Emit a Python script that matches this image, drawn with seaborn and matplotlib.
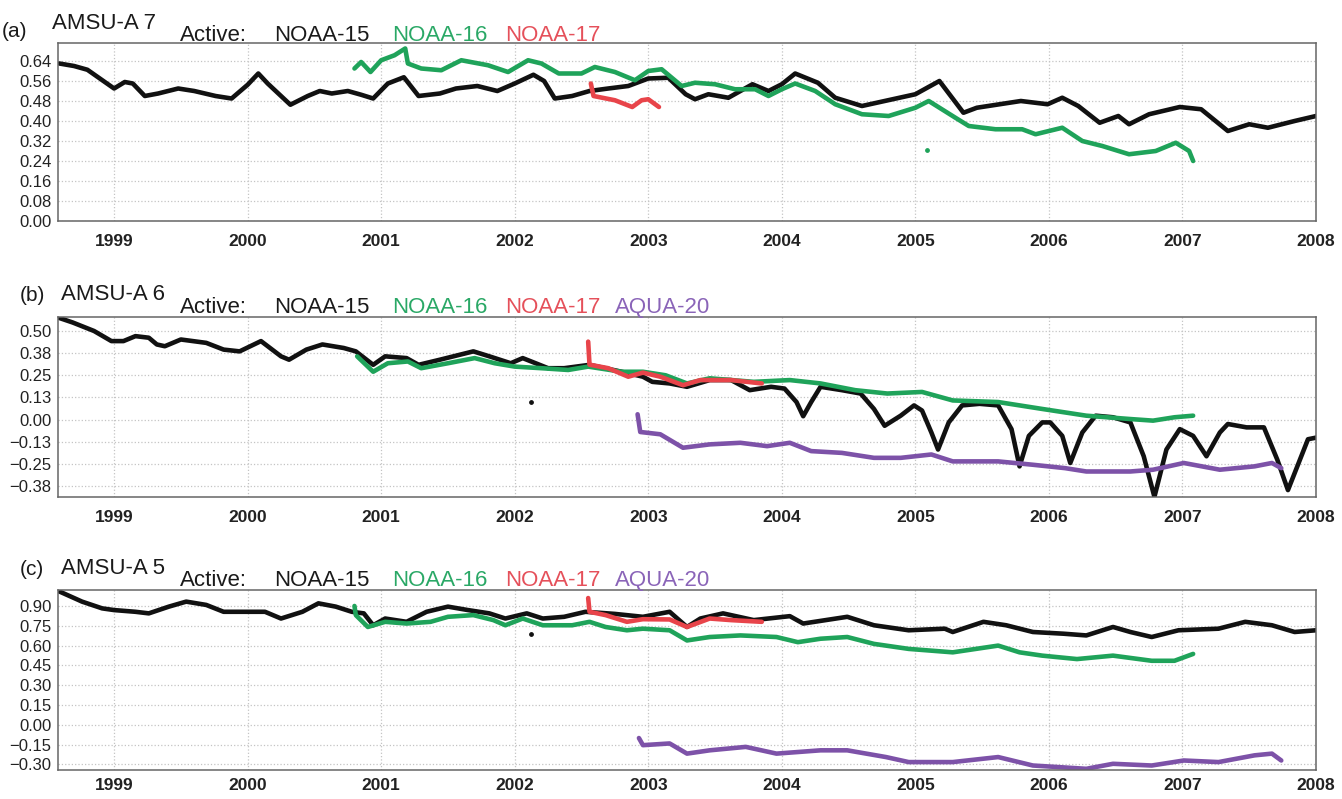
import numpy as np
import pandas as pd
import seaborn as sns
import matplotlib.pyplot as plt

# ---- data (decimal year, channel value) ----

# (a) AMSU-A 7
a_n15_t = [1998.59, 1998.70, 1998.80, 1998.92, 1999.00, 1999.08, 1999.14, 1999.23, 1999.33, 1999.48,
           1999.60, 1999.76, 1999.88, 2000.00, 2000.08, 2000.15, 2000.25, 2000.32, 2000.45, 2000.54,
           2000.63, 2000.75, 2000.85, 2000.94, 2001.05, 2001.17, 2001.28, 2001.44, 2001.56, 2001.72,
           2001.87, 2002.00, 2002.14, 2002.22, 2002.30, 2002.43, 2002.56, 2002.70, 2002.85, 2003.00,
           2003.15, 2003.28, 2003.35, 2003.45, 2003.60, 2003.78, 2003.90, 2004.00, 2004.10, 2004.27,
           2004.40, 2004.60, 2004.77, 2005.00, 2005.18, 2005.36, 2005.46, 2005.79, 2005.99, 2006.10,
           2006.22, 2006.38, 2006.52, 2006.60, 2006.75, 2006.98, 2007.14, 2007.34, 2007.50, 2007.64,
           2007.84, 2008.00]
a_n15_v = [0.63, 0.62, 0.605, 0.56, 0.53, 0.556, 0.55, 0.50, 0.51, 0.53,
           0.52, 0.50, 0.49, 0.545, 0.59, 0.55, 0.50, 0.465, 0.50, 0.52,
           0.51, 0.52, 0.505, 0.49, 0.55, 0.575, 0.50, 0.51, 0.53, 0.54,
           0.52, 0.55, 0.585, 0.56, 0.49, 0.50, 0.52, 0.53, 0.54, 0.57,
           0.573, 0.507, 0.487, 0.507, 0.493, 0.547, 0.52, 0.547, 0.59, 0.553,
           0.493, 0.46, 0.48, 0.507, 0.56, 0.433, 0.453, 0.48, 0.467, 0.493,
           0.46, 0.393, 0.42, 0.387, 0.427, 0.456, 0.447, 0.36, 0.387, 0.373,
           0.40, 0.42]
a_n16_t = [2000.80, 2000.85, 2000.92, 2001.00, 2001.10, 2001.18, 2001.20, 2001.30, 2001.45, 2001.60,
           2001.80, 2001.95, 2002.10, 2002.20, 2002.33, 2002.50, 2002.60, 2002.75, 2002.90, 2003.00,
           2003.10, 2003.25, 2003.35, 2003.50, 2003.65, 2003.80, 2003.90, 2004.00, 2004.10, 2004.25,
           2004.40, 2004.60, 2004.80, 2005.00, 2005.10, 2005.30, 2005.40, 2005.60, 2005.80, 2005.90,
           2006.10, 2006.25, 2006.40, 2006.60, 2006.80, 2006.95, 2007.05, 2007.08]
a_n16_v = [0.61, 0.636, 0.596, 0.643, 0.663, 0.69, 0.63, 0.61, 0.603, 0.643,
           0.623, 0.596, 0.643, 0.63, 0.59, 0.59, 0.616, 0.596, 0.563, 0.60,
           0.607, 0.54, 0.553, 0.547, 0.527, 0.527, 0.50, 0.527, 0.55, 0.52,
           0.467, 0.427, 0.42, 0.453, 0.48, 0.413, 0.38, 0.367, 0.367, 0.347,
           0.373, 0.32, 0.30, 0.267, 0.28, 0.313, 0.28, 0.24]
a_n17_t = [2002.57, 2002.59, 2002.75, 2002.88, 2002.95, 2003.00, 2003.08]
a_n17_v = [0.55, 0.50, 0.483, 0.456, 0.483, 0.487, 0.456]

# (b) AMSU-A 6
b_n15_t = [1998.58, 1998.69, 1998.85, 1998.98, 1999.07, 1999.16, 1999.26, 1999.32, 1999.38, 1999.50,
           1999.69, 1999.82, 1999.94, 2000.10, 2000.25, 2000.31, 2000.44, 2000.56, 2000.72, 2000.81,
           2000.94, 2001.03, 2001.19, 2001.28, 2001.44, 2001.69, 2001.81, 2001.97, 2002.06, 2002.25,
           2002.37, 2002.56, 2002.80, 2002.96, 2003.03, 2003.16, 2003.29, 2003.46, 2003.62, 2003.76,
           2003.92, 2004.02, 2004.11, 2004.16, 2004.22, 2004.29, 2004.45, 2004.59, 2004.69, 2004.77,
           2004.89, 2004.99, 2005.05, 2005.12, 2005.17, 2005.25, 2005.35, 2005.48, 2005.62, 2005.72,
           2005.78, 2005.85, 2005.95, 2006.01, 2006.10, 2006.16, 2006.25, 2006.35, 2006.48, 2006.61,
           2006.71, 2006.79, 2006.88, 2006.98, 2007.08, 2007.18, 2007.28, 2007.34, 2007.48, 2007.61,
           2007.71, 2007.79, 2007.87, 2007.94, 2008.00]
b_n15_v = [0.576, 0.548, 0.50, 0.443, 0.443, 0.471, 0.462, 0.424, 0.414, 0.452,
           0.433, 0.395, 0.385, 0.443, 0.357, 0.338, 0.395, 0.424, 0.404, 0.385,
           0.309, 0.357, 0.347, 0.309, 0.338, 0.385, 0.357, 0.318, 0.347, 0.29,
           0.29, 0.309, 0.27, 0.242, 0.213, 0.204, 0.185, 0.223, 0.223, 0.166,
           0.185, 0.175, 0.099, 0.019, 0.099, 0.185, 0.166, 0.147, 0.06, -0.035,
           0.022, 0.08, 0.051, -0.073, -0.169, -0.016, 0.08, 0.089, 0.08, -0.054,
           -0.264, -0.092, -0.016, -0.016, -0.092, -0.245, -0.073, 0.022, 0.013, -0.016,
           -0.207, -0.436, -0.169, -0.054, -0.092, -0.207, -0.073, -0.025, -0.044, -0.044,
           -0.226, -0.398, -0.245, -0.111, -0.102]
b_n16_t = [2000.82, 2000.94, 2001.05, 2001.20, 2001.30, 2001.50, 2001.70, 2001.85, 2002.00, 2002.20,
           2002.40, 2002.55, 2002.80, 2002.96, 2003.13, 2003.29, 2003.46, 2003.79, 2004.06, 2004.29,
           2004.55, 2004.79, 2005.05, 2005.28, 2005.62, 2005.95, 2006.28, 2006.61, 2006.78, 2006.94,
           2007.08]
b_n16_v = [0.357, 0.27, 0.318, 0.328, 0.29, 0.318, 0.347, 0.318, 0.299, 0.29,
           0.28, 0.299, 0.27, 0.27, 0.25, 0.204, 0.233, 0.213, 0.223, 0.204,
           0.166, 0.147, 0.156, 0.108, 0.099, 0.06, 0.022, 0.003, -0.006, 0.013,
           0.022]
b_n17_t = [2002.55, 2002.56, 2002.70, 2002.85, 2002.96, 2003.09, 2003.26, 2003.39, 2003.62, 2003.85]
b_n17_v = [0.44, 0.31, 0.29, 0.242, 0.265, 0.242, 0.194, 0.223, 0.223, 0.204]
b_aq_t = [2002.92, 2002.94, 2003.09, 2003.26, 2003.46, 2003.69, 2003.89, 2004.06, 2004.22, 2004.45,
          2004.69, 2004.89, 2005.12, 2005.28, 2005.62, 2005.88, 2006.12, 2006.28, 2006.61, 2006.78,
          2007.01, 2007.28, 2007.54, 2007.67, 2007.74]
b_aq_v = [0.03, -0.07, -0.083, -0.159, -0.14, -0.131, -0.15, -0.131, -0.178, -0.188,
          -0.216, -0.216, -0.197, -0.236, -0.236, -0.255, -0.274, -0.293, -0.293, -0.283,
          -0.245, -0.283, -0.264, -0.245, -0.274]

# (c) AMSU-A 5
c_n15_t = [1998.59, 1998.76, 1998.91, 1999.00, 1999.16, 1999.26, 1999.41, 1999.54, 1999.69, 1999.82,
           2000.01, 2000.13, 2000.25, 2000.41, 2000.53, 2000.66, 2000.78, 2000.87, 2000.94, 2001.03,
           2001.19, 2001.34, 2001.50, 2001.65, 2001.81, 2001.93, 2002.09, 2002.21, 2002.37, 2002.53,
           2002.75, 2002.96, 2003.16, 2003.29, 2003.39, 2003.56, 2003.79, 2004.06, 2004.16, 2004.49,
           2004.69, 2004.95, 2005.22, 2005.28, 2005.51, 2005.68, 2005.88, 2006.11, 2006.28, 2006.48,
           2006.61, 2006.77, 2006.97, 2007.27, 2007.47, 2007.67, 2007.84, 2008.00]
c_n15_v = [1.01, 0.933, 0.882, 0.869, 0.856, 0.844, 0.895, 0.933, 0.908, 0.856,
           0.856, 0.856, 0.805, 0.856, 0.92, 0.895, 0.856, 0.844, 0.754, 0.805,
           0.78, 0.856, 0.895, 0.869, 0.844, 0.805, 0.844, 0.805, 0.818, 0.856,
           0.84, 0.818, 0.856, 0.741, 0.805, 0.844, 0.793, 0.823, 0.767, 0.818,
           0.754, 0.716, 0.728, 0.703, 0.78, 0.754, 0.703, 0.69, 0.677, 0.741,
           0.703, 0.665, 0.716, 0.728, 0.78, 0.754, 0.703, 0.716]
c_n16_t = [2000.80, 2000.81, 2000.90, 2001.03, 2001.19, 2001.37, 2001.50, 2001.69, 2001.84, 2001.93,
           2002.06, 2002.21, 2002.43, 2002.56, 2002.68, 2002.84, 2002.96, 2003.16, 2003.29, 2003.46,
           2003.69, 2003.96, 2004.12, 2004.29, 2004.49, 2004.69, 2004.95, 2005.28, 2005.62, 2005.78,
           2005.95, 2006.21, 2006.48, 2006.77, 2006.94, 2007.08]
c_n16_v = [0.90, 0.831, 0.741, 0.78, 0.767, 0.78, 0.818, 0.831, 0.793, 0.754,
           0.805, 0.754, 0.754, 0.78, 0.741, 0.716, 0.728, 0.716, 0.639, 0.665,
           0.677, 0.665, 0.626, 0.652, 0.665, 0.613, 0.575, 0.549, 0.60, 0.549,
           0.524, 0.498, 0.524, 0.485, 0.485, 0.537]
c_n17_t = [2002.55, 2002.56, 2002.68, 2002.84, 2002.96, 2003.16, 2003.29, 2003.46, 2003.62, 2003.85]
c_n17_v = [0.96, 0.856, 0.831, 0.78, 0.80, 0.798, 0.741, 0.805, 0.793, 0.78]
c_aq_t = [2002.93, 2002.96, 2003.16, 2003.29, 2003.46, 2003.73, 2003.96, 2004.29, 2004.49, 2004.78,
          2004.95, 2005.28, 2005.62, 2005.88, 2006.28, 2006.48, 2006.77, 2007.01, 2007.27, 2007.54,
          2007.67, 2007.74]
c_aq_v = [-0.10, -0.154, -0.141, -0.218, -0.193, -0.167, -0.218, -0.193, -0.193, -0.244,
          -0.282, -0.282, -0.244, -0.308, -0.333, -0.295, -0.308, -0.27, -0.282, -0.231,
          -0.218, -0.27]

# a few stray daily points
a_dot_t, a_dot_v = [2005.09], [0.284]
b_dot_t, b_dot_v = [2002.12], [0.099]
c_dot_t, c_dot_v = [2002.12], [0.69]

satellites = ['NOAA-15', 'NOAA-16', 'NOAA-17', 'AQUA-20']
line_colors = {'NOAA-15': '#111111', 'NOAA-16': '#1fa35a', 'NOAA-17': '#e8444a', 'AQUA-20': '#7d52a8'}
text_colors = {'NOAA-15': '#1a1a1a', 'NOAA-16': '#2aa866', 'NOAA-17': '#e5505a', 'AQUA-20': '#8a64b8'}
years = list(range(1999, 2009))

panels = [
    dict(tag='(a)', name='AMSU-A 7',
         series={'NOAA-15': (a_n15_t, a_n15_v), 'NOAA-16': (a_n16_t, a_n16_v), 'NOAA-17': (a_n17_t, a_n17_v)},
         dots=(a_dot_t, a_dot_v, 'NOAA-16'),
         yticks=[0.00, 0.08, 0.16, 0.24, 0.32, 0.40, 0.48, 0.56, 0.64],
         ylabels=['0.00', '0.08', '0.16', '0.24', '0.32', '0.40', '0.48', '0.56', '0.64'],
         ylim=(0.0, 0.712), top=43, bottom=221, xpad=6,
         tag_xy=(2, 37), name_xy=(52, 29), act_y=41),
    dict(tag='(b)', name='AMSU-A 6',
         series={'NOAA-15': (b_n15_t, b_n15_v), 'NOAA-16': (b_n16_t, b_n16_v),
                 'NOAA-17': (b_n17_t, b_n17_v), 'AQUA-20': (b_aq_t, b_aq_v)},
         dots=(b_dot_t, b_dot_v, 'NOAA-15'),
         yticks=[-0.375, -0.25, -0.125, 0.0, 0.125, 0.25, 0.375, 0.5],
         ylabels=['\u22120.38', '\u22120.25', '\u22120.13', '0.00', '0.13', '0.25', '0.38', '0.50'],
         ylim=(-0.437, 0.579), top=317, bottom=497, xpad=6,
         tag_xy=(20, 301), name_xy=(61, 300), act_y=313),
    dict(tag='(c)', name='AMSU-A 5',
         series={'NOAA-15': (c_n15_t, c_n15_v), 'NOAA-16': (c_n16_t, c_n16_v),
                 'NOAA-17': (c_n17_t, c_n17_v), 'AQUA-20': (c_aq_t, c_aq_v)},
         dots=(c_dot_t, c_dot_v, 'NOAA-15'),
         yticks=[-0.30, -0.15, 0.0, 0.15, 0.30, 0.45, 0.60, 0.75, 0.90],
         ylabels=['\u22120.30', '\u22120.15', '0.00', '0.15', '0.30', '0.45', '0.60', '0.75', '0.90'],
         ylim=(-0.342, 1.021), top=590, bottom=770, xpad=2.5,
         tag_xy=(20, 575), name_xy=(61, 574), act_y=586),
]

W, H = 1342, 799
sns.set_style('white')
plt.rcParams['font.family'] = ['Liberation Sans', 'DejaVu Sans']

fig = plt.figure(figsize=(W / 100, H / 100), dpi=100)
left, right = 58, 1316
word_x = {'Active:': 180, 'NOAA-15': 274, 'NOAA-16': 392, 'NOAA-17': 505, 'AQUA-20': 615}


def fx(x):
    return x / W


def fy(y):
    return 1 - y / H


for p in panels:
    ax = fig.add_axes([fx(left), fy(p['bottom']), (right - left) / W, (p['bottom'] - p['top']) / H])

    rows = []
    for sat, (t, v) in p['series'].items():
        rows.append(pd.DataFrame({'year': t, 'value': v, 'satellite': sat}))
    df = pd.concat(rows, ignore_index=True)
    order = [s for s in satellites if s in p['series']]
    sns.lineplot(data=df, x='year', y='value', hue='satellite', hue_order=order,
                 palette=line_colors, estimator=None, sort=False, legend=False,
                 linewidth=3.3, ax=ax)
    dt, dv, dsat = p['dots']
    ax.scatter(dt, dv, s=6, color=line_colors[dsat], zorder=3)

    ax.set_xlim(1998.58, 2008.0)
    ax.set_ylim(*p['ylim'])
    ax.set_xticks(years)
    ax.set_xticklabels([str(y) for y in years], fontsize=12.5, fontweight='bold', color='#222222')
    ax.set_yticks(p['yticks'])
    ax.set_yticklabels(p['ylabels'], fontsize=12, color='#222222')
    ax.set_xlabel('')
    ax.set_ylabel('')
    ax.grid(True, color='#c4c4c4', linestyle=':', linewidth=0.9)
    ax.set_axisbelow(True)
    ax.tick_params(axis='both', direction='out', length=3.6, width=1, color='#555555')
    ax.tick_params(axis='x', pad=p['xpad'])
    ax.tick_params(axis='y', pad=1)
    for sp in ax.spines.values():
        sp.set_color('#666666')
        sp.set_linewidth(1.1)

    # header line above each panel
    fig.text(fx(p['tag_xy'][0]), fy(p['tag_xy'][1]), p['tag'], fontsize=15, va='baseline', color='#1a1a1a')
    fig.text(fx(p['name_xy'][0]), fy(p['name_xy'][1]), p['name'], fontsize=16, va='baseline', color='#1a1a1a')
    fig.text(fx(word_x['Active:']), fy(p['act_y']), 'Active:', fontsize=16, va='baseline', color='#1a1a1a')
    for sat in order:
        fig.text(fx(word_x[sat]), fy(p['act_y']), sat, fontsize=16, va='baseline', color=text_colors[sat])

fig.savefig('out.png', dpi=100)
